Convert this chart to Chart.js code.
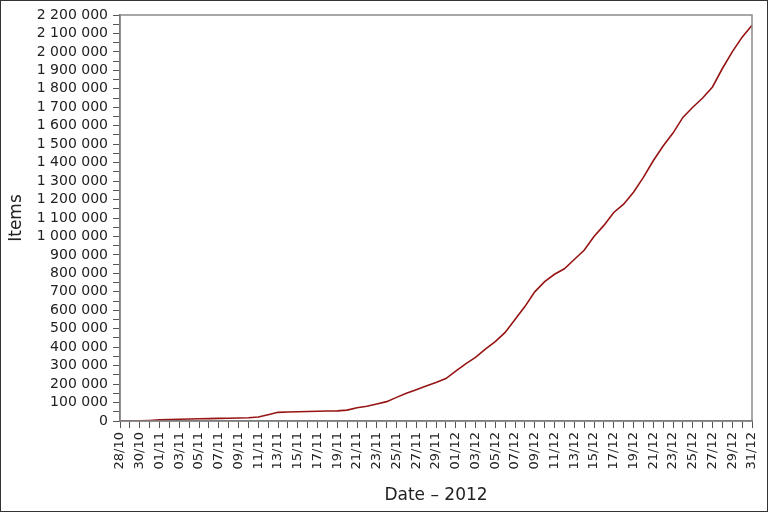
<!DOCTYPE html>
<html>
<head>
<meta charset="utf-8">
<script src="https://cdn.jsdelivr.net/npm/chart.js@4"></script>
<style>
  body { margin: 0; background: #fff; }
  #wrap { width: 768px; height: 512px; box-sizing: border-box; border: 1px solid #333; position: relative; }
  canvas { position: absolute; left: -1px; top: -1px; }
</style>
</head>
<body>
<div id="wrap"><canvas id="graph" width="768" height="512"></canvas></div>
<script>
"use strict";
const DATES = [
    "28/10", "29/10", "30/10", "31/10",
    "01/11", "02/11", "03/11", "04/11", "05/11", "06/11", "07/11", "08/11", "09/11", "10/11",
    "11/11", "12/11", "13/11", "14/11", "15/11", "16/11", "17/11", "18/11", "19/11", "20/11",
    "21/11", "22/11", "23/11", "24/11", "25/11", "26/11", "27/11", "28/11", "29/11", "30/11",
    "01/12", "02/12", "03/12", "04/12", "05/12", "06/12", "07/12", "08/12", "09/12", "10/12",
    "11/12", "12/12", "13/12", "14/12", "15/12", "16/12", "17/12", "18/12", "19/12", "20/12",
    "21/12", "22/12", "23/12", "24/12", "25/12", "26/12", "27/12", "28/12", "29/12", "30/12",
    "31/12",
];
const ITEMS = [
    0, 0, 500, 3000,
    6000, 8000, 9500, 11000, 12000, 13000, 14000, 15000, 16000, 18000,
    22000, 34000, 47000, 49000, 50000, 51500, 53000, 54000, 55000, 59000,
    72000, 80000, 92000, 105000, 128000, 150000, 170000, 190000, 208000, 230000,
    270000, 310000, 345000, 390000, 430000, 480000, 550000, 620000, 700000, 755000,
    795000, 825000, 875000, 925000, 1000000, 1060000, 1130000, 1175000, 1240000, 1320000,
    1410000, 1490000, 1560000, 1645000, 1700000, 1750000, 1810000, 1910000, 2000000, 2080000,
    2145000,
];
const Y_MAX = 2200000;
const FONT = "'DejaVu Sans', sans-serif";

// grey frame round the plot area
const frame = {
    id: "frame",
    afterDraw(chart) {
        const a = chart.chartArea, ctx = chart.ctx;
        ctx.save();
        ctx.strokeStyle = "#8a8a8a";
        ctx.lineWidth = 1.5;
        ctx.strokeRect(a.left, a.top, a.right - a.left, a.bottom - a.top);
        ctx.restore();
    },
};

function fmt(v) {
    return String(v).replace(/\B(?=(\d{3})+(?!\d))/g, " ");
}

const config = {
    type: "line",
    data: {
        labels: DATES,
        datasets: [{
            label: "Items",
            data: ITEMS,
            borderColor: "#961414",
            borderWidth: 1.6,
            pointRadius: 0,
            tension: 0,
        }],
    },
    options: {
        responsive: false,
        animation: false,
        layout: { padding: { left: 0, right: 16, top: 15, bottom: 0 } },
        plugins: { legend: { display: false }, tooltip: { enabled: false } },
        scales: {
            x: {
                type: "category",
                offset: false,
                afterFit(s) {
                    s.height = 91;
                    s.paddingLeft = 0;
                    s.paddingRight = 0;
                },
                border: { color: "#555", width: 1.5 },
                grid: { drawOnChartArea: false, drawTicks: true, tickLength: 7, color: "#555", lineWidth: 1 },
                ticks: {
                    autoSkip: false,
                    maxRotation: 90,
                    minRotation: 90,
                    padding: 4,
                    color: "#222",
                    font: { family: FONT, size: 13 },
                    callback(v, i) { return i % 2 === 0 ? DATES[i] : ""; },
                },
                title: {
                    display: true,
                    text: "Date – 2012",
                    color: "#222",
                    font: { family: FONT, size: 17 },
                    padding: { top: 0, bottom: 6 },
                },
            },
            y: {
                min: 0,
                max: Y_MAX,
                afterFit(s) { s.width = 120; },
                border: { color: "#555", width: 1.5 },
                grid: { drawOnChartArea: false, drawTicks: true, tickLength: 7, color: "#555", lineWidth: 1 },
                ticks: {
                    stepSize: 50000,
                    autoSkip: false,
                    padding: 5,
                    color: "#222",
                    font: { family: FONT, size: 14 },
                    callback(v) { return v % 100000 === 0 ? fmt(v) : ""; },
                },
                title: {
                    display: true,
                    text: "Items",
                    color: "#222",
                    font: { family: FONT, size: 17 },
                    padding: { top: 6, bottom: 0 },
                },
            },
        },
    },
    plugins: [frame],
};

new Chart(document.getElementById("graph"), config);
</script>
</body>
</html>
